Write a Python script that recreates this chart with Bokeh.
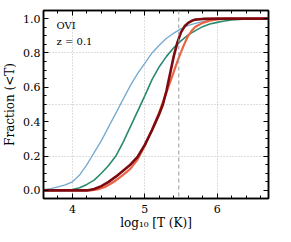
from bokeh.plotting import figure
from bokeh.embed import file_html
from bokeh.resources import INLINE
from bokeh.models import (Range1d, LinearAxis, FixedTicker, SingleIntervalTicker,
                          Label, Span, CustomJSTickFormatter, PrintfTickFormatter)

# ---- data ----
x_blue = [3.6, 3.7, 3.8, 3.9, 4.0, 4.1, 4.2, 4.3, 4.4, 4.5, 4.6, 4.7, 4.8, 4.9, 5.0,
          5.1, 5.2, 5.3, 5.4, 5.5, 5.6, 5.7, 5.8, 5.9, 6.0, 6.2, 6.7]
y_blue = [0.005, 0.01, 0.02, 0.032, 0.05, 0.09, 0.15, 0.22, 0.29, 0.37, 0.45, 0.53, 0.61,
          0.68, 0.74, 0.80, 0.845, 0.885, 0.915, 0.94, 0.96, 0.972, 0.982, 0.99, 0.995, 1.0, 1.0]

x_green = [3.6, 3.9, 4.0, 4.1, 4.2, 4.3, 4.4, 4.5, 4.6, 4.7, 4.8, 4.9, 5.0, 5.1, 5.2,
           5.3, 5.4, 5.5, 5.6, 5.7, 5.8, 5.9, 6.0, 6.1, 6.2, 6.4, 6.7]
y_green = [0.0, 0.002, 0.005, 0.015, 0.035, 0.06, 0.1, 0.145, 0.2, 0.28, 0.37, 0.46, 0.55,
           0.645, 0.72, 0.78, 0.83, 0.87, 0.905, 0.93, 0.953, 0.968, 0.978, 0.986, 0.992,
           0.998, 1.0]

x_orange = [3.6, 4.25, 4.35, 4.45, 4.55, 4.6, 4.7, 4.8, 4.9, 5.0, 5.1, 5.2, 5.3, 5.4,
            5.45, 5.5, 5.55, 5.6, 5.65, 5.7, 5.8, 5.9, 6.0, 6.15, 6.7]
y_orange = [0.0, 0.0, 0.006, 0.02, 0.045, 0.058, 0.09, 0.125, 0.18, 0.26, 0.355, 0.455,
            0.57, 0.69, 0.75, 0.805, 0.855, 0.9, 0.93, 0.952, 0.975, 0.988, 0.995, 1.0, 1.0]

x_dark = [3.6, 4.2, 4.3, 4.4, 4.5, 4.6, 4.7, 4.8, 4.9, 5.0, 5.1, 5.2, 5.25, 5.3, 5.35,
          5.4, 5.45, 5.5, 5.55, 5.6, 5.65, 5.7, 5.8, 6.0, 6.7]
y_dark = [0.0, 0.0, 0.008, 0.025, 0.05, 0.08, 0.115, 0.15, 0.195, 0.265, 0.35, 0.445,
          0.5, 0.58, 0.68, 0.78, 0.86, 0.92, 0.955, 0.975, 0.987, 0.994, 0.998, 1.0, 1.0]

x_ref = 5.47            # dashed vertical reference line
x_gridlines = [4, 5, 6]
y_gridlines = [0.2, 0.5, 0.8]
ion_label = "OVI"
z_label = "z = 0.1"

FONT = "DejaVu Serif"

p = figure(width=275, height=232, x_range=Range1d(3.6, 6.71), y_range=Range1d(-0.047, 1.047),
           output_backend="svg", toolbar_location=None,
           min_border_left=35, min_border_right=7, min_border_top=10, min_border_bottom=32)
p.background_fill_color = "white"
p.border_fill_color = "white"
p.outline_line_color = "black"
p.outline_line_width = 1.5

bottom = p.xaxis[0]
left = p.yaxis[0]

# grid
p.xgrid.ticker = FixedTicker(ticks=x_gridlines)
p.ygrid.ticker = FixedTicker(ticks=y_gridlines)
for g in (p.xgrid, p.ygrid):
    g.grid_line_color = "#bdbdbd"
    g.grid_line_dash = "1 2"
    g.grid_line_width = 1

bottom.ticker = SingleIntervalTicker(interval=1, num_minor_ticks=5)
left.ticker = SingleIntervalTicker(interval=0.2, num_minor_ticks=4)
left.formatter = PrintfTickFormatter(format="%.1f")
bottom.axis_label = "log\u2081\u2080 [T (K)]"
left.axis_label = "Fraction (<T)"

top = LinearAxis(ticker=SingleIntervalTicker(interval=1, num_minor_ticks=5),
                 formatter=CustomJSTickFormatter(code="return ''"))
right = LinearAxis(ticker=SingleIntervalTicker(interval=0.2, num_minor_ticks=4),
                   formatter=CustomJSTickFormatter(code="return ''"))
p.add_layout(top, "above")
p.add_layout(right, "right")

for ax in (bottom, left, top, right):
    ax.axis_line_color = "black"
    ax.axis_line_width = 1.5
    ax.major_tick_in = 5
    ax.major_tick_out = 0
    ax.minor_tick_in = 3
    ax.minor_tick_out = 0
    ax.major_tick_line_color = "black"
    ax.minor_tick_line_color = "black"
    ax.major_tick_line_width = 1
    ax.minor_tick_line_width = 1
    ax.major_label_text_font = FONT
    ax.major_label_text_font_size = "11px"
    ax.major_label_text_color = "black"
    ax.axis_label_text_font = FONT
    ax.axis_label_text_font_size = "12px"
    ax.axis_label_text_font_style = "normal"
    ax.axis_label_text_color = "black"

top.major_label_standoff = 0
right.major_label_standoff = 0
bottom.major_label_standoff = 6
bottom.axis_label_standoff = 0
left.major_label_standoff = 3
left.axis_label_standoff = 3

p.add_layout(Span(location=x_ref, dimension="height", line_color="#9a9a9a",
                  line_dash="4 3", line_width=1))

p.line(x_blue, y_blue, line_color="#74a9cf", line_width=1.3)
p.line(x_green, y_green, line_color="#2b8a6e", line_width=1.6)
p.line(x_orange, y_orange, line_color="#ec6446", line_width=2.2)
p.line(x_dark, y_dark, line_color="#7c0a10", line_width=2.6)

p.add_layout(Label(x=3.78, y=0.957, text=ion_label, text_font=FONT, text_font_size="10px",
                   text_color="black", text_baseline="alphabetic"))
p.add_layout(Label(x=3.78, y=0.868, text=z_label, text_font=FONT, text_font_size="10px",
                   text_color="black", text_baseline="alphabetic"))

open("out.html", "w").write(file_html(p, INLINE))
